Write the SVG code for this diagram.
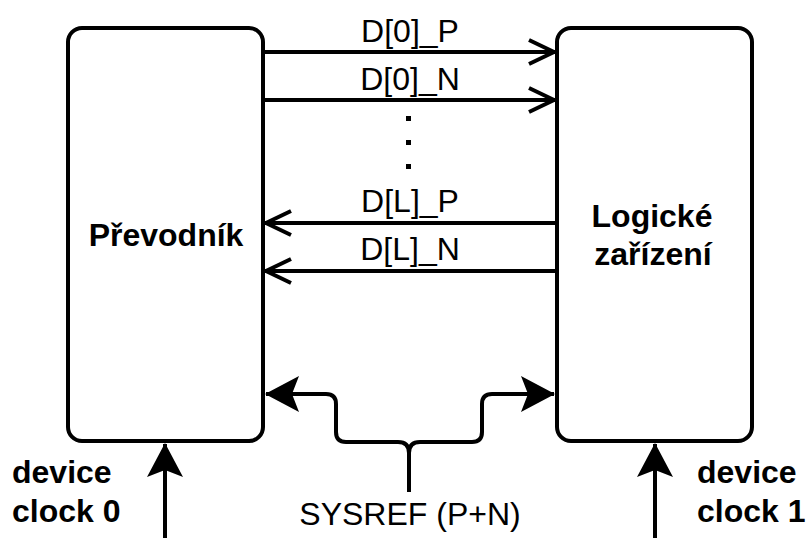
<svg xmlns="http://www.w3.org/2000/svg" width="806" height="538" viewBox="0 0 806 538">
<style>
.box{fill:#fff;stroke:#000;stroke-width:4}
.ln{fill:none;stroke:#000;stroke-width:4}
.t{font-family:"Liberation Sans",Arial,sans-serif;font-size:32px;fill:#000}
.b{font-family:"Liberation Sans",Arial,sans-serif;font-size:32px;font-weight:bold;fill:#000}
</style>
<defs>
<marker id="open" viewBox="0 0 30 30" refX="28" refY="15" markerWidth="30" markerHeight="30" markerUnits="userSpaceOnUse" orient="auto">
<path d="M2,3 L27,15 L2,27" fill="none" stroke="#000" stroke-width="4"/>
</marker>
<marker id="fill" viewBox="0 0 34 36" refX="33" refY="18" markerWidth="34" markerHeight="36" markerUnits="userSpaceOnUse" orient="auto">
<path d="M0,0 L34,18 L0,36 L7,18 Z" fill="#000"/>
</marker>
</defs>
<rect width="806" height="538" fill="#fff"/>
<g id="prevodnik">
<rect class="box" x="68" y="28" width="195" height="413" rx="14"/>
<text class="b" x="166" y="246" text-anchor="middle">Převodník</text>
</g>
<g id="logicke">
<rect class="box" x="557" y="28" width="195" height="413" rx="14"/>
<text class="b" x="652" y="227" text-anchor="middle">Logické</text>
<text class="b" x="653" y="265" text-anchor="middle">zařízení</text>
</g>
<g id="connectors">
<line class="ln" x1="263" y1="52" x2="555" y2="52" marker-end="url(#open)"/>
<line class="ln" x1="263" y1="100" x2="555" y2="100" marker-end="url(#open)"/>
<line class="ln" x1="555" y1="223" x2="265" y2="223" marker-end="url(#open)"/>
<line class="ln" x1="555" y1="271" x2="265" y2="271" marker-end="url(#open)"/>
<path class="ln" d="M409,492 V453 Q409,442 398,442 H346 Q336,442 336,432 V404 Q336,394 326,394 H266" marker-end="url(#fill)"/>
<path class="ln" d="M409,453 Q409,442 420,442 H472 Q482,442 482,432 V404 Q482,394 492,394 H554" marker-end="url(#fill)"/>
<line class="ln" x1="165" y1="538" x2="165" y2="444" marker-end="url(#fill)"/>
<line class="ln" x1="655" y1="538" x2="655" y2="444" marker-end="url(#fill)"/>
</g>
<g id="labels">
<text class="t" x="410" y="42" text-anchor="middle">D[0]_P</text>
<text class="t" x="410" y="90" text-anchor="middle">D[0]_N</text>
<rect x="406" y="116" width="5" height="5"/>
<rect x="406" y="140" width="5" height="5"/>
<rect x="406" y="164" width="5" height="5"/>
<text class="t" x="410" y="212" text-anchor="middle">D[L]_P</text>
<text class="t" x="410" y="260" text-anchor="middle">D[L]_N</text>
<text class="t" x="410" y="525" text-anchor="middle">SYSREF (P+N)</text>
<text class="b" x="12" y="483">device</text>
<text class="b" x="12" y="522">clock 0</text>
<text class="b" x="697" y="483">device</text>
<text class="b" x="697" y="522">clock 1</text>
</g>
</svg>
